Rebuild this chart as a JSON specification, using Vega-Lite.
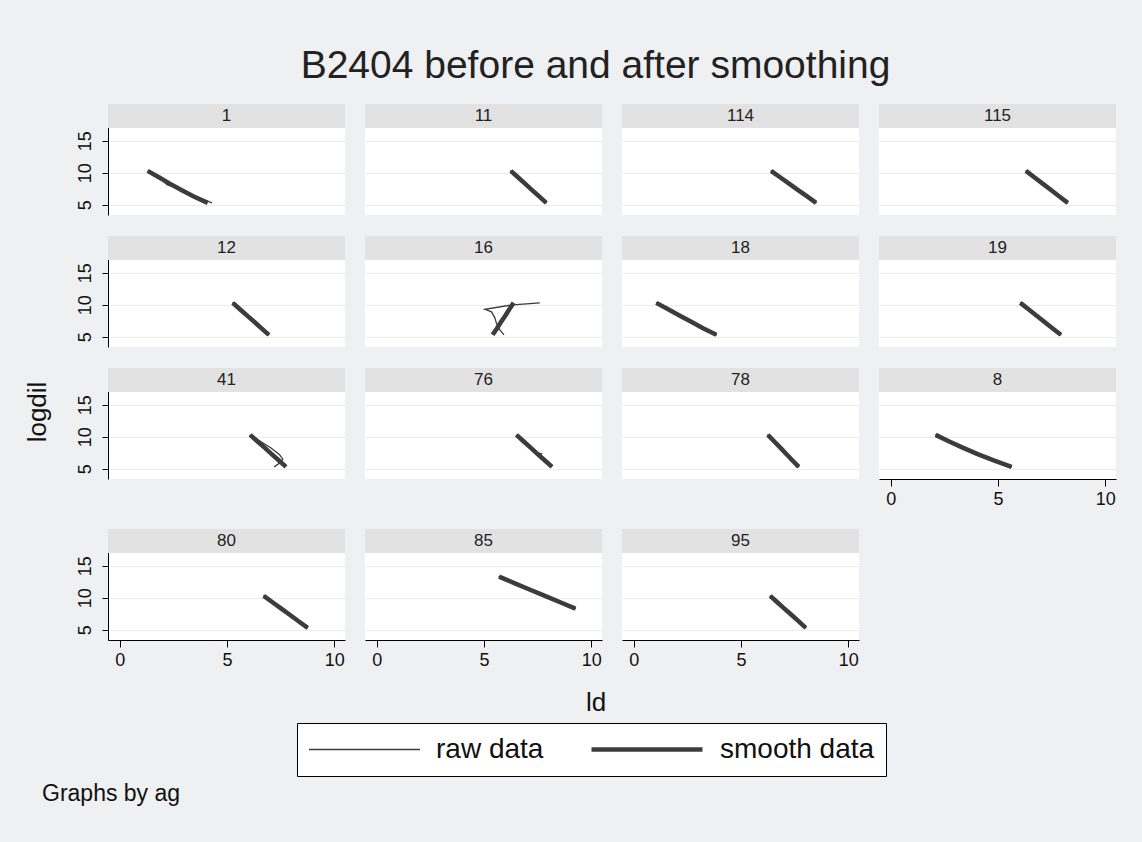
{
  "$schema": "https://vega.github.io/schema/vega-lite/v6.json",
  "background": "#eff0f2",
  "padding": {"left": 25, "right": 28, "top": 47, "bottom": 37},
  "title": {"text": "B2404 before and after smoothing", "fontSize": 39, "font": "Liberation Sans", "fontWeight": "normal", "color": "#222222", "offset": 18, "anchor": "middle", "dx": 25},
  "data": {"values": [
    {"ag":"1","series":"smooth data","i":0,"ld":1.3,"logdil":10.3},{"ag":"1","series":"smooth data","i":1,"ld":1.82,"logdil":9.3},{"ag":"1","series":"smooth data","i":2,"ld":2.33,"logdil":8.3},{"ag":"1","series":"smooth data","i":3,"ld":2.87,"logdil":7.3},{"ag":"1","series":"smooth data","i":4,"ld":3.45,"logdil":6.3},{"ag":"1","series":"smooth data","i":5,"ld":4.1,"logdil":5.3},
    {"ag":"1","series":"raw data","i":0,"ld":1.3,"logdil":10.35},{"ag":"1","series":"raw data","i":1,"ld":1.85,"logdil":9.3},{"ag":"1","series":"raw data","i":2,"ld":2.2,"logdil":8.15},{"ag":"1","series":"raw data","i":3,"ld":2.95,"logdil":7.25},{"ag":"1","series":"raw data","i":4,"ld":3.1,"logdil":7.05},{"ag":"1","series":"raw data","i":5,"ld":3.55,"logdil":6.25},{"ag":"1","series":"raw data","i":6,"ld":4.3,"logdil":5.3},
    {"ag":"11","series":"smooth data","i":0,"ld":6.25,"logdil":10.3},{"ag":"11","series":"smooth data","i":1,"ld":6.58,"logdil":9.3},{"ag":"11","series":"smooth data","i":2,"ld":6.91,"logdil":8.3},{"ag":"11","series":"smooth data","i":3,"ld":7.24,"logdil":7.3},{"ag":"11","series":"smooth data","i":4,"ld":7.57,"logdil":6.3},{"ag":"11","series":"smooth data","i":5,"ld":7.9,"logdil":5.3},
    {"ag":"11","series":"raw data","i":0,"ld":6.22,"logdil":10.35},{"ag":"11","series":"raw data","i":1,"ld":6.6,"logdil":9.3},{"ag":"11","series":"raw data","i":2,"ld":6.89,"logdil":8.3},{"ag":"11","series":"raw data","i":3,"ld":7.26,"logdil":7.3},{"ag":"11","series":"raw data","i":4,"ld":7.55,"logdil":6.3},{"ag":"11","series":"raw data","i":5,"ld":7.92,"logdil":5.25},
    {"ag":"114","series":"smooth data","i":0,"ld":6.4,"logdil":10.3},{"ag":"114","series":"smooth data","i":1,"ld":6.82,"logdil":9.3},{"ag":"114","series":"smooth data","i":2,"ld":7.24,"logdil":8.3},{"ag":"114","series":"smooth data","i":3,"ld":7.66,"logdil":7.3},{"ag":"114","series":"smooth data","i":4,"ld":8.08,"logdil":6.3},{"ag":"114","series":"smooth data","i":5,"ld":8.5,"logdil":5.3},
    {"ag":"114","series":"raw data","i":0,"ld":6.38,"logdil":10.35},{"ag":"114","series":"raw data","i":1,"ld":6.84,"logdil":9.3},{"ag":"114","series":"raw data","i":2,"ld":7.22,"logdil":8.3},{"ag":"114","series":"raw data","i":3,"ld":7.68,"logdil":7.3},{"ag":"114","series":"raw data","i":4,"ld":8.06,"logdil":6.3},{"ag":"114","series":"raw data","i":5,"ld":8.52,"logdil":5.25},
    {"ag":"115","series":"smooth data","i":0,"ld":6.3,"logdil":10.3},{"ag":"115","series":"smooth data","i":1,"ld":6.69,"logdil":9.3},{"ag":"115","series":"smooth data","i":2,"ld":7.08,"logdil":8.3},{"ag":"115","series":"smooth data","i":3,"ld":7.47,"logdil":7.3},{"ag":"115","series":"smooth data","i":4,"ld":7.86,"logdil":6.3},{"ag":"115","series":"smooth data","i":5,"ld":8.25,"logdil":5.3},
    {"ag":"115","series":"raw data","i":0,"ld":6.28,"logdil":10.35},{"ag":"115","series":"raw data","i":1,"ld":6.7,"logdil":9.3},{"ag":"115","series":"raw data","i":2,"ld":7.06,"logdil":8.3},{"ag":"115","series":"raw data","i":3,"ld":7.49,"logdil":7.3},{"ag":"115","series":"raw data","i":4,"ld":7.84,"logdil":6.3},{"ag":"115","series":"raw data","i":5,"ld":8.27,"logdil":5.25},
    {"ag":"12","series":"smooth data","i":0,"ld":5.27,"logdil":10.3},{"ag":"12","series":"smooth data","i":1,"ld":5.6,"logdil":9.3},{"ag":"12","series":"smooth data","i":2,"ld":5.94,"logdil":8.3},{"ag":"12","series":"smooth data","i":3,"ld":6.28,"logdil":7.3},{"ag":"12","series":"smooth data","i":4,"ld":6.61,"logdil":6.3},{"ag":"12","series":"smooth data","i":5,"ld":6.95,"logdil":5.3},
    {"ag":"12","series":"raw data","i":0,"ld":5.25,"logdil":10.35},{"ag":"12","series":"raw data","i":1,"ld":5.62,"logdil":9.3},{"ag":"12","series":"raw data","i":2,"ld":5.92,"logdil":8.3},{"ag":"12","series":"raw data","i":3,"ld":6.3,"logdil":7.3},{"ag":"12","series":"raw data","i":4,"ld":6.6,"logdil":6.3},{"ag":"12","series":"raw data","i":5,"ld":6.97,"logdil":5.25},
    {"ag":"16","series":"smooth data","i":0,"ld":5.4,"logdil":5.3},{"ag":"16","series":"smooth data","i":1,"ld":5.6,"logdil":6.3},{"ag":"16","series":"smooth data","i":2,"ld":5.79,"logdil":7.3},{"ag":"16","series":"smooth data","i":3,"ld":5.99,"logdil":8.3},{"ag":"16","series":"smooth data","i":4,"ld":6.18,"logdil":9.3},{"ag":"16","series":"smooth data","i":5,"ld":6.38,"logdil":10.3},
    {"ag":"16","series":"raw data","i":0,"ld":7.6,"logdil":10.3},{"ag":"16","series":"raw data","i":1,"ld":6.35,"logdil":10.0},{"ag":"16","series":"raw data","i":2,"ld":5.04,"logdil":9.3},{"ag":"16","series":"raw data","i":3,"ld":5.35,"logdil":8.9},{"ag":"16","series":"raw data","i":4,"ld":5.5,"logdil":8.0},{"ag":"16","series":"raw data","i":5,"ld":5.58,"logdil":7.1},{"ag":"16","series":"raw data","i":6,"ld":5.73,"logdil":6.1},{"ag":"16","series":"raw data","i":7,"ld":5.93,"logdil":5.3},
    {"ag":"18","series":"smooth data","i":0,"ld":1.05,"logdil":10.3},{"ag":"18","series":"smooth data","i":1,"ld":1.6,"logdil":9.3},{"ag":"18","series":"smooth data","i":2,"ld":2.15,"logdil":8.3},{"ag":"18","series":"smooth data","i":3,"ld":2.7,"logdil":7.3},{"ag":"18","series":"smooth data","i":4,"ld":3.25,"logdil":6.3},{"ag":"18","series":"smooth data","i":5,"ld":3.85,"logdil":5.3},
    {"ag":"18","series":"raw data","i":0,"ld":1.03,"logdil":10.35},{"ag":"18","series":"raw data","i":1,"ld":1.62,"logdil":9.3},{"ag":"18","series":"raw data","i":2,"ld":2.13,"logdil":8.3},{"ag":"18","series":"raw data","i":3,"ld":2.72,"logdil":7.3},{"ag":"18","series":"raw data","i":4,"ld":3.23,"logdil":6.3},{"ag":"18","series":"raw data","i":5,"ld":3.87,"logdil":5.25},
    {"ag":"19","series":"smooth data","i":0,"ld":6.04,"logdil":10.3},{"ag":"19","series":"smooth data","i":1,"ld":6.42,"logdil":9.3},{"ag":"19","series":"smooth data","i":2,"ld":6.8,"logdil":8.3},{"ag":"19","series":"smooth data","i":3,"ld":7.17,"logdil":7.3},{"ag":"19","series":"smooth data","i":4,"ld":7.55,"logdil":6.3},{"ag":"19","series":"smooth data","i":5,"ld":7.93,"logdil":5.3},
    {"ag":"19","series":"raw data","i":0,"ld":6.02,"logdil":10.35},{"ag":"19","series":"raw data","i":1,"ld":6.44,"logdil":9.3},{"ag":"19","series":"raw data","i":2,"ld":6.78,"logdil":8.3},{"ag":"19","series":"raw data","i":3,"ld":7.19,"logdil":7.3},{"ag":"19","series":"raw data","i":4,"ld":7.53,"logdil":6.3},{"ag":"19","series":"raw data","i":5,"ld":7.95,"logdil":5.25},
    {"ag":"41","series":"smooth data","i":0,"ld":6.08,"logdil":10.3},{"ag":"41","series":"smooth data","i":1,"ld":6.41,"logdil":9.3},{"ag":"41","series":"smooth data","i":2,"ld":6.75,"logdil":8.3},{"ag":"41","series":"smooth data","i":3,"ld":7.08,"logdil":7.3},{"ag":"41","series":"smooth data","i":4,"ld":7.42,"logdil":6.3},{"ag":"41","series":"smooth data","i":5,"ld":7.75,"logdil":5.3},
    {"ag":"41","series":"raw data","i":0,"ld":6.05,"logdil":10.3},{"ag":"41","series":"raw data","i":1,"ld":6.55,"logdil":9.3},{"ag":"41","series":"raw data","i":2,"ld":7.05,"logdil":8.25},{"ag":"41","series":"raw data","i":3,"ld":7.45,"logdil":7.2},{"ag":"41","series":"raw data","i":4,"ld":7.6,"logdil":6.5},{"ag":"41","series":"raw data","i":5,"ld":7.5,"logdil":6.0},{"ag":"41","series":"raw data","i":6,"ld":7.2,"logdil":5.3},
    {"ag":"76","series":"smooth data","i":0,"ld":6.51,"logdil":10.3},{"ag":"76","series":"smooth data","i":1,"ld":6.84,"logdil":9.3},{"ag":"76","series":"smooth data","i":2,"ld":7.17,"logdil":8.3},{"ag":"76","series":"smooth data","i":3,"ld":7.5,"logdil":7.3},{"ag":"76","series":"smooth data","i":4,"ld":7.84,"logdil":6.3},{"ag":"76","series":"smooth data","i":5,"ld":8.17,"logdil":5.3},
    {"ag":"76","series":"raw data","i":0,"ld":6.5,"logdil":10.3},{"ag":"76","series":"raw data","i":1,"ld":6.85,"logdil":9.3},{"ag":"76","series":"raw data","i":2,"ld":7.15,"logdil":8.3},{"ag":"76","series":"raw data","i":3,"ld":7.45,"logdil":7.5},{"ag":"76","series":"raw data","i":4,"ld":7.68,"logdil":7.35},{"ag":"76","series":"raw data","i":5,"ld":7.6,"logdil":7.0},{"ag":"76","series":"raw data","i":6,"ld":7.85,"logdil":6.3},{"ag":"76","series":"raw data","i":7,"ld":8.15,"logdil":5.3},
    {"ag":"78","series":"smooth data","i":0,"ld":6.25,"logdil":10.3},{"ag":"78","series":"smooth data","i":1,"ld":6.54,"logdil":9.3},{"ag":"78","series":"smooth data","i":2,"ld":6.83,"logdil":8.3},{"ag":"78","series":"smooth data","i":3,"ld":7.11,"logdil":7.3},{"ag":"78","series":"smooth data","i":4,"ld":7.4,"logdil":6.3},{"ag":"78","series":"smooth data","i":5,"ld":7.69,"logdil":5.3},
    {"ag":"78","series":"raw data","i":0,"ld":6.23,"logdil":10.35},{"ag":"78","series":"raw data","i":1,"ld":6.56,"logdil":9.3},{"ag":"78","series":"raw data","i":2,"ld":6.81,"logdil":8.3},{"ag":"78","series":"raw data","i":3,"ld":7.13,"logdil":7.3},{"ag":"78","series":"raw data","i":4,"ld":7.38,"logdil":6.3},{"ag":"78","series":"raw data","i":5,"ld":7.71,"logdil":5.25},
    {"ag":"8","series":"smooth data","i":0,"ld":2.09,"logdil":10.3},{"ag":"8","series":"smooth data","i":1,"ld":2.7,"logdil":9.3},{"ag":"8","series":"smooth data","i":2,"ld":3.35,"logdil":8.3},{"ag":"8","series":"smooth data","i":3,"ld":4.05,"logdil":7.3},{"ag":"8","series":"smooth data","i":4,"ld":4.8,"logdil":6.3},{"ag":"8","series":"smooth data","i":5,"ld":5.63,"logdil":5.3},
    {"ag":"8","series":"raw data","i":0,"ld":2.07,"logdil":10.35},{"ag":"8","series":"raw data","i":1,"ld":2.72,"logdil":9.3},{"ag":"8","series":"raw data","i":2,"ld":3.33,"logdil":8.3},{"ag":"8","series":"raw data","i":3,"ld":4.07,"logdil":7.3},{"ag":"8","series":"raw data","i":4,"ld":4.78,"logdil":6.3},{"ag":"8","series":"raw data","i":5,"ld":5.65,"logdil":5.25},
    {"ag":"80","series":"smooth data","i":0,"ld":6.71,"logdil":10.3},{"ag":"80","series":"smooth data","i":1,"ld":7.12,"logdil":9.3},{"ag":"80","series":"smooth data","i":2,"ld":7.53,"logdil":8.3},{"ag":"80","series":"smooth data","i":3,"ld":7.94,"logdil":7.3},{"ag":"80","series":"smooth data","i":4,"ld":8.35,"logdil":6.3},{"ag":"80","series":"smooth data","i":5,"ld":8.76,"logdil":5.3},
    {"ag":"80","series":"raw data","i":0,"ld":6.69,"logdil":10.35},{"ag":"80","series":"raw data","i":1,"ld":7.14,"logdil":9.3},{"ag":"80","series":"raw data","i":2,"ld":7.51,"logdil":8.3},{"ag":"80","series":"raw data","i":3,"ld":7.96,"logdil":7.3},{"ag":"80","series":"raw data","i":4,"ld":8.33,"logdil":6.3},{"ag":"80","series":"raw data","i":5,"ld":8.78,"logdil":5.25},
    {"ag":"85","series":"smooth data","i":0,"ld":5.7,"logdil":13.3},{"ag":"85","series":"smooth data","i":1,"ld":6.41,"logdil":12.3},{"ag":"85","series":"smooth data","i":2,"ld":7.12,"logdil":11.3},{"ag":"85","series":"smooth data","i":3,"ld":7.84,"logdil":10.3},{"ag":"85","series":"smooth data","i":4,"ld":8.55,"logdil":9.3},{"ag":"85","series":"smooth data","i":5,"ld":9.26,"logdil":8.3},
    {"ag":"85","series":"raw data","i":0,"ld":5.68,"logdil":13.35},{"ag":"85","series":"raw data","i":1,"ld":6.43,"logdil":12.3},{"ag":"85","series":"raw data","i":2,"ld":7.1,"logdil":11.3},{"ag":"85","series":"raw data","i":3,"ld":7.86,"logdil":10.3},{"ag":"85","series":"raw data","i":4,"ld":8.53,"logdil":9.3},{"ag":"85","series":"raw data","i":5,"ld":9.28,"logdil":8.25},
    {"ag":"95","series":"smooth data","i":0,"ld":6.36,"logdil":10.3},{"ag":"95","series":"smooth data","i":1,"ld":6.69,"logdil":9.3},{"ag":"95","series":"smooth data","i":2,"ld":7.02,"logdil":8.3},{"ag":"95","series":"smooth data","i":3,"ld":7.36,"logdil":7.3},{"ag":"95","series":"smooth data","i":4,"ld":7.69,"logdil":6.3},{"ag":"95","series":"smooth data","i":5,"ld":8.02,"logdil":5.3},
    {"ag":"95","series":"raw data","i":0,"ld":6.34,"logdil":10.35},{"ag":"95","series":"raw data","i":1,"ld":6.71,"logdil":9.3},{"ag":"95","series":"raw data","i":2,"ld":7.0,"logdil":8.3},{"ag":"95","series":"raw data","i":3,"ld":7.38,"logdil":7.3},{"ag":"95","series":"raw data","i":4,"ld":7.67,"logdil":6.3},{"ag":"95","series":"raw data","i":5,"ld":8.04,"logdil":5.25}
  ]},
  "vconcat": [
    {
      "hconcat": [
        {"data": {"values": [{"t": "logdil"}]}, "width": 20, "height": 616, "view": {"fill": null, "stroke": null}, "mark": {"type": "text", "angle": 270, "fontSize": 26, "color": "#111111"}, "encoding": {"text": {"field": "t"}}},
        {
          "vconcat": [
            {"hconcat": [
              {"width":237,"height":111,"transform":[{"filter":{"field":"ag","equal":"1"}}],"layer":[{"mark":{"type":"line","color":"#3c3c3c"},"encoding":{"x":{"field":"ld","type":"quantitative","scale":{"domain":[-0.55,10.5],"nice":false,"zero":false},"axis":null},"y":{"field":"logdil","type":"quantitative","scale":{"domain":[3.4,20.75],"nice":false,"zero":false},"axis":{"values":[5,10,15],"title":null}},"strokeWidth":{"field":"series","type":"ordinal","scale":{"domain":["raw data","smooth data"],"range":[1.3,4.5]},"legend":{"title":null}},"order":{"field":"i","type":"quantitative"}}},{"transform":[{"aggregate":[{"op":"count","as":"n"}],"groupby":["ag"]}],"layer":[{"mark":{"type":"rect","fill":"#e2e2e2"},"encoding":{"y":{"datum":20.75,"type":"quantitative","scale":{"domain":[3.4,20.75],"nice":false,"zero":false},"axis":{"values":[5,10,15],"title":null}},"y2":{"datum":17}}},{"mark":{"type":"text","fontSize":17,"color":"#222222"},"encoding":{"text":{"field":"ag"},"y":{"datum":18.85,"type":"quantitative","scale":{"domain":[3.4,20.75],"nice":false,"zero":false},"axis":{"values":[5,10,15],"title":null}}}}]}]},
              {"width":237,"height":111,"transform":[{"filter":{"field":"ag","equal":"11"}}],"layer":[{"mark":{"type":"line","color":"#3c3c3c"},"encoding":{"x":{"field":"ld","type":"quantitative","scale":{"domain":[-0.55,10.5],"nice":false,"zero":false},"axis":null},"y":{"field":"logdil","type":"quantitative","scale":{"domain":[3.4,20.75],"nice":false,"zero":false},"axis":{"values":[5,10,15],"title":null,"domain":false,"ticks":false,"labels":false}},"strokeWidth":{"field":"series","type":"ordinal","scale":{"domain":["raw data","smooth data"],"range":[1.3,4.5]},"legend":{"title":null}},"order":{"field":"i","type":"quantitative"}}},{"transform":[{"aggregate":[{"op":"count","as":"n"}],"groupby":["ag"]}],"layer":[{"mark":{"type":"rect","fill":"#e2e2e2"},"encoding":{"y":{"datum":20.75,"type":"quantitative","scale":{"domain":[3.4,20.75],"nice":false,"zero":false},"axis":{"values":[5,10,15],"title":null,"domain":false,"ticks":false,"labels":false}},"y2":{"datum":17}}},{"mark":{"type":"text","fontSize":17,"color":"#222222"},"encoding":{"text":{"field":"ag"},"y":{"datum":18.85,"type":"quantitative","scale":{"domain":[3.4,20.75],"nice":false,"zero":false},"axis":{"values":[5,10,15],"title":null,"domain":false,"ticks":false,"labels":false}}}}]}]},
              {"width":237,"height":111,"transform":[{"filter":{"field":"ag","equal":"114"}}],"layer":[{"mark":{"type":"line","color":"#3c3c3c"},"encoding":{"x":{"field":"ld","type":"quantitative","scale":{"domain":[-0.55,10.5],"nice":false,"zero":false},"axis":null},"y":{"field":"logdil","type":"quantitative","scale":{"domain":[3.4,20.75],"nice":false,"zero":false},"axis":{"values":[5,10,15],"title":null,"domain":false,"ticks":false,"labels":false}},"strokeWidth":{"field":"series","type":"ordinal","scale":{"domain":["raw data","smooth data"],"range":[1.3,4.5]},"legend":{"title":null}},"order":{"field":"i","type":"quantitative"}}},{"transform":[{"aggregate":[{"op":"count","as":"n"}],"groupby":["ag"]}],"layer":[{"mark":{"type":"rect","fill":"#e2e2e2"},"encoding":{"y":{"datum":20.75,"type":"quantitative","scale":{"domain":[3.4,20.75],"nice":false,"zero":false},"axis":{"values":[5,10,15],"title":null,"domain":false,"ticks":false,"labels":false}},"y2":{"datum":17}}},{"mark":{"type":"text","fontSize":17,"color":"#222222"},"encoding":{"text":{"field":"ag"},"y":{"datum":18.85,"type":"quantitative","scale":{"domain":[3.4,20.75],"nice":false,"zero":false},"axis":{"values":[5,10,15],"title":null,"domain":false,"ticks":false,"labels":false}}}}]}]},
              {"width":237,"height":111,"transform":[{"filter":{"field":"ag","equal":"115"}}],"layer":[{"mark":{"type":"line","color":"#3c3c3c"},"encoding":{"x":{"field":"ld","type":"quantitative","scale":{"domain":[-0.55,10.5],"nice":false,"zero":false},"axis":null},"y":{"field":"logdil","type":"quantitative","scale":{"domain":[3.4,20.75],"nice":false,"zero":false},"axis":{"values":[5,10,15],"title":null,"domain":false,"ticks":false,"labels":false}},"strokeWidth":{"field":"series","type":"ordinal","scale":{"domain":["raw data","smooth data"],"range":[1.3,4.5]},"legend":{"title":null}},"order":{"field":"i","type":"quantitative"}}},{"transform":[{"aggregate":[{"op":"count","as":"n"}],"groupby":["ag"]}],"layer":[{"mark":{"type":"rect","fill":"#e2e2e2"},"encoding":{"y":{"datum":20.75,"type":"quantitative","scale":{"domain":[3.4,20.75],"nice":false,"zero":false},"axis":{"values":[5,10,15],"title":null,"domain":false,"ticks":false,"labels":false}},"y2":{"datum":17}}},{"mark":{"type":"text","fontSize":17,"color":"#222222"},"encoding":{"text":{"field":"ag"},"y":{"datum":18.85,"type":"quantitative","scale":{"domain":[3.4,20.75],"nice":false,"zero":false},"axis":{"values":[5,10,15],"title":null,"domain":false,"ticks":false,"labels":false}}}}]}]}
            ], "spacing": 20},
            {"hconcat": [
              {"width":237,"height":111,"transform":[{"filter":{"field":"ag","equal":"12"}}],"layer":[{"mark":{"type":"line","color":"#3c3c3c"},"encoding":{"x":{"field":"ld","type":"quantitative","scale":{"domain":[-0.55,10.5],"nice":false,"zero":false},"axis":null},"y":{"field":"logdil","type":"quantitative","scale":{"domain":[3.4,20.75],"nice":false,"zero":false},"axis":{"values":[5,10,15],"title":null}},"strokeWidth":{"field":"series","type":"ordinal","scale":{"domain":["raw data","smooth data"],"range":[1.3,4.5]},"legend":{"title":null}},"order":{"field":"i","type":"quantitative"}}},{"transform":[{"aggregate":[{"op":"count","as":"n"}],"groupby":["ag"]}],"layer":[{"mark":{"type":"rect","fill":"#e2e2e2"},"encoding":{"y":{"datum":20.75,"type":"quantitative","scale":{"domain":[3.4,20.75],"nice":false,"zero":false},"axis":{"values":[5,10,15],"title":null}},"y2":{"datum":17}}},{"mark":{"type":"text","fontSize":17,"color":"#222222"},"encoding":{"text":{"field":"ag"},"y":{"datum":18.85,"type":"quantitative","scale":{"domain":[3.4,20.75],"nice":false,"zero":false},"axis":{"values":[5,10,15],"title":null}}}}]}]},
              {"width":237,"height":111,"transform":[{"filter":{"field":"ag","equal":"16"}}],"layer":[{"mark":{"type":"line","color":"#3c3c3c"},"encoding":{"x":{"field":"ld","type":"quantitative","scale":{"domain":[-0.55,10.5],"nice":false,"zero":false},"axis":null},"y":{"field":"logdil","type":"quantitative","scale":{"domain":[3.4,20.75],"nice":false,"zero":false},"axis":{"values":[5,10,15],"title":null,"domain":false,"ticks":false,"labels":false}},"strokeWidth":{"field":"series","type":"ordinal","scale":{"domain":["raw data","smooth data"],"range":[1.3,4.5]},"legend":{"title":null}},"order":{"field":"i","type":"quantitative"}}},{"transform":[{"aggregate":[{"op":"count","as":"n"}],"groupby":["ag"]}],"layer":[{"mark":{"type":"rect","fill":"#e2e2e2"},"encoding":{"y":{"datum":20.75,"type":"quantitative","scale":{"domain":[3.4,20.75],"nice":false,"zero":false},"axis":{"values":[5,10,15],"title":null,"domain":false,"ticks":false,"labels":false}},"y2":{"datum":17}}},{"mark":{"type":"text","fontSize":17,"color":"#222222"},"encoding":{"text":{"field":"ag"},"y":{"datum":18.85,"type":"quantitative","scale":{"domain":[3.4,20.75],"nice":false,"zero":false},"axis":{"values":[5,10,15],"title":null,"domain":false,"ticks":false,"labels":false}}}}]}]},
              {"width":237,"height":111,"transform":[{"filter":{"field":"ag","equal":"18"}}],"layer":[{"mark":{"type":"line","color":"#3c3c3c"},"encoding":{"x":{"field":"ld","type":"quantitative","scale":{"domain":[-0.55,10.5],"nice":false,"zero":false},"axis":null},"y":{"field":"logdil","type":"quantitative","scale":{"domain":[3.4,20.75],"nice":false,"zero":false},"axis":{"values":[5,10,15],"title":null,"domain":false,"ticks":false,"labels":false}},"strokeWidth":{"field":"series","type":"ordinal","scale":{"domain":["raw data","smooth data"],"range":[1.3,4.5]},"legend":{"title":null}},"order":{"field":"i","type":"quantitative"}}},{"transform":[{"aggregate":[{"op":"count","as":"n"}],"groupby":["ag"]}],"layer":[{"mark":{"type":"rect","fill":"#e2e2e2"},"encoding":{"y":{"datum":20.75,"type":"quantitative","scale":{"domain":[3.4,20.75],"nice":false,"zero":false},"axis":{"values":[5,10,15],"title":null,"domain":false,"ticks":false,"labels":false}},"y2":{"datum":17}}},{"mark":{"type":"text","fontSize":17,"color":"#222222"},"encoding":{"text":{"field":"ag"},"y":{"datum":18.85,"type":"quantitative","scale":{"domain":[3.4,20.75],"nice":false,"zero":false},"axis":{"values":[5,10,15],"title":null,"domain":false,"ticks":false,"labels":false}}}}]}]},
              {"width":237,"height":111,"transform":[{"filter":{"field":"ag","equal":"19"}}],"layer":[{"mark":{"type":"line","color":"#3c3c3c"},"encoding":{"x":{"field":"ld","type":"quantitative","scale":{"domain":[-0.55,10.5],"nice":false,"zero":false},"axis":null},"y":{"field":"logdil","type":"quantitative","scale":{"domain":[3.4,20.75],"nice":false,"zero":false},"axis":{"values":[5,10,15],"title":null,"domain":false,"ticks":false,"labels":false}},"strokeWidth":{"field":"series","type":"ordinal","scale":{"domain":["raw data","smooth data"],"range":[1.3,4.5]},"legend":{"title":null}},"order":{"field":"i","type":"quantitative"}}},{"transform":[{"aggregate":[{"op":"count","as":"n"}],"groupby":["ag"]}],"layer":[{"mark":{"type":"rect","fill":"#e2e2e2"},"encoding":{"y":{"datum":20.75,"type":"quantitative","scale":{"domain":[3.4,20.75],"nice":false,"zero":false},"axis":{"values":[5,10,15],"title":null,"domain":false,"ticks":false,"labels":false}},"y2":{"datum":17}}},{"mark":{"type":"text","fontSize":17,"color":"#222222"},"encoding":{"text":{"field":"ag"},"y":{"datum":18.85,"type":"quantitative","scale":{"domain":[3.4,20.75],"nice":false,"zero":false},"axis":{"values":[5,10,15],"title":null,"domain":false,"ticks":false,"labels":false}}}}]}]}
            ], "spacing": 20},
            {"hconcat": [
              {"width":237,"height":111,"transform":[{"filter":{"field":"ag","equal":"41"}}],"layer":[{"mark":{"type":"line","color":"#3c3c3c"},"encoding":{"x":{"field":"ld","type":"quantitative","scale":{"domain":[-0.55,10.5],"nice":false,"zero":false},"axis":null},"y":{"field":"logdil","type":"quantitative","scale":{"domain":[3.4,20.75],"nice":false,"zero":false},"axis":{"values":[5,10,15],"title":null}},"strokeWidth":{"field":"series","type":"ordinal","scale":{"domain":["raw data","smooth data"],"range":[1.3,4.5]},"legend":{"title":null}},"order":{"field":"i","type":"quantitative"}}},{"transform":[{"aggregate":[{"op":"count","as":"n"}],"groupby":["ag"]}],"layer":[{"mark":{"type":"rect","fill":"#e2e2e2"},"encoding":{"y":{"datum":20.75,"type":"quantitative","scale":{"domain":[3.4,20.75],"nice":false,"zero":false},"axis":{"values":[5,10,15],"title":null}},"y2":{"datum":17}}},{"mark":{"type":"text","fontSize":17,"color":"#222222"},"encoding":{"text":{"field":"ag"},"y":{"datum":18.85,"type":"quantitative","scale":{"domain":[3.4,20.75],"nice":false,"zero":false},"axis":{"values":[5,10,15],"title":null}}}}]}]},
              {"width":237,"height":111,"transform":[{"filter":{"field":"ag","equal":"76"}}],"layer":[{"mark":{"type":"line","color":"#3c3c3c"},"encoding":{"x":{"field":"ld","type":"quantitative","scale":{"domain":[-0.55,10.5],"nice":false,"zero":false},"axis":null},"y":{"field":"logdil","type":"quantitative","scale":{"domain":[3.4,20.75],"nice":false,"zero":false},"axis":{"values":[5,10,15],"title":null,"domain":false,"ticks":false,"labels":false}},"strokeWidth":{"field":"series","type":"ordinal","scale":{"domain":["raw data","smooth data"],"range":[1.3,4.5]},"legend":{"title":null}},"order":{"field":"i","type":"quantitative"}}},{"transform":[{"aggregate":[{"op":"count","as":"n"}],"groupby":["ag"]}],"layer":[{"mark":{"type":"rect","fill":"#e2e2e2"},"encoding":{"y":{"datum":20.75,"type":"quantitative","scale":{"domain":[3.4,20.75],"nice":false,"zero":false},"axis":{"values":[5,10,15],"title":null,"domain":false,"ticks":false,"labels":false}},"y2":{"datum":17}}},{"mark":{"type":"text","fontSize":17,"color":"#222222"},"encoding":{"text":{"field":"ag"},"y":{"datum":18.85,"type":"quantitative","scale":{"domain":[3.4,20.75],"nice":false,"zero":false},"axis":{"values":[5,10,15],"title":null,"domain":false,"ticks":false,"labels":false}}}}]}]},
              {"width":237,"height":111,"transform":[{"filter":{"field":"ag","equal":"78"}}],"layer":[{"mark":{"type":"line","color":"#3c3c3c"},"encoding":{"x":{"field":"ld","type":"quantitative","scale":{"domain":[-0.55,10.5],"nice":false,"zero":false},"axis":null},"y":{"field":"logdil","type":"quantitative","scale":{"domain":[3.4,20.75],"nice":false,"zero":false},"axis":{"values":[5,10,15],"title":null,"domain":false,"ticks":false,"labels":false}},"strokeWidth":{"field":"series","type":"ordinal","scale":{"domain":["raw data","smooth data"],"range":[1.3,4.5]},"legend":{"title":null}},"order":{"field":"i","type":"quantitative"}}},{"transform":[{"aggregate":[{"op":"count","as":"n"}],"groupby":["ag"]}],"layer":[{"mark":{"type":"rect","fill":"#e2e2e2"},"encoding":{"y":{"datum":20.75,"type":"quantitative","scale":{"domain":[3.4,20.75],"nice":false,"zero":false},"axis":{"values":[5,10,15],"title":null,"domain":false,"ticks":false,"labels":false}},"y2":{"datum":17}}},{"mark":{"type":"text","fontSize":17,"color":"#222222"},"encoding":{"text":{"field":"ag"},"y":{"datum":18.85,"type":"quantitative","scale":{"domain":[3.4,20.75],"nice":false,"zero":false},"axis":{"values":[5,10,15],"title":null,"domain":false,"ticks":false,"labels":false}}}}]}]},
              {"width":237,"height":111,"transform":[{"filter":{"field":"ag","equal":"8"}}],"layer":[{"mark":{"type":"line","color":"#3c3c3c"},"encoding":{"x":{"field":"ld","type":"quantitative","scale":{"domain":[-0.55,10.5],"nice":false,"zero":false},"axis":{"values":[0,5,10],"title":null}},"y":{"field":"logdil","type":"quantitative","scale":{"domain":[3.4,20.75],"nice":false,"zero":false},"axis":{"values":[5,10,15],"title":null,"domain":false,"ticks":false,"labels":false}},"strokeWidth":{"field":"series","type":"ordinal","scale":{"domain":["raw data","smooth data"],"range":[1.3,4.5]},"legend":{"title":null}},"order":{"field":"i","type":"quantitative"}}},{"transform":[{"aggregate":[{"op":"count","as":"n"}],"groupby":["ag"]}],"layer":[{"mark":{"type":"rect","fill":"#e2e2e2"},"encoding":{"y":{"datum":20.75,"type":"quantitative","scale":{"domain":[3.4,20.75],"nice":false,"zero":false},"axis":{"values":[5,10,15],"title":null,"domain":false,"ticks":false,"labels":false}},"y2":{"datum":17}}},{"mark":{"type":"text","fontSize":17,"color":"#222222"},"encoding":{"text":{"field":"ag"},"y":{"datum":18.85,"type":"quantitative","scale":{"domain":[3.4,20.75],"nice":false,"zero":false},"axis":{"values":[5,10,15],"title":null,"domain":false,"ticks":false,"labels":false}}}}]}]}
            ], "spacing": 20},
            {"hconcat": [
              {"width":237,"height":111,"transform":[{"filter":{"field":"ag","equal":"80"}}],"layer":[{"mark":{"type":"line","color":"#3c3c3c"},"encoding":{"x":{"field":"ld","type":"quantitative","scale":{"domain":[-0.55,10.5],"nice":false,"zero":false},"axis":{"values":[0,5,10],"title":null}},"y":{"field":"logdil","type":"quantitative","scale":{"domain":[3.4,20.75],"nice":false,"zero":false},"axis":{"values":[5,10,15],"title":null}},"strokeWidth":{"field":"series","type":"ordinal","scale":{"domain":["raw data","smooth data"],"range":[1.3,4.5]},"legend":{"title":null}},"order":{"field":"i","type":"quantitative"}}},{"transform":[{"aggregate":[{"op":"count","as":"n"}],"groupby":["ag"]}],"layer":[{"mark":{"type":"rect","fill":"#e2e2e2"},"encoding":{"y":{"datum":20.75,"type":"quantitative","scale":{"domain":[3.4,20.75],"nice":false,"zero":false},"axis":{"values":[5,10,15],"title":null}},"y2":{"datum":17}}},{"mark":{"type":"text","fontSize":17,"color":"#222222"},"encoding":{"text":{"field":"ag"},"y":{"datum":18.85,"type":"quantitative","scale":{"domain":[3.4,20.75],"nice":false,"zero":false},"axis":{"values":[5,10,15],"title":null}}}}]}]},
              {"width":237,"height":111,"transform":[{"filter":{"field":"ag","equal":"85"}}],"layer":[{"mark":{"type":"line","color":"#3c3c3c"},"encoding":{"x":{"field":"ld","type":"quantitative","scale":{"domain":[-0.55,10.5],"nice":false,"zero":false},"axis":{"values":[0,5,10],"title":null}},"y":{"field":"logdil","type":"quantitative","scale":{"domain":[3.4,20.75],"nice":false,"zero":false},"axis":{"values":[5,10,15],"title":null,"domain":false,"ticks":false,"labels":false}},"strokeWidth":{"field":"series","type":"ordinal","scale":{"domain":["raw data","smooth data"],"range":[1.3,4.5]},"legend":{"title":null}},"order":{"field":"i","type":"quantitative"}}},{"transform":[{"aggregate":[{"op":"count","as":"n"}],"groupby":["ag"]}],"layer":[{"mark":{"type":"rect","fill":"#e2e2e2"},"encoding":{"y":{"datum":20.75,"type":"quantitative","scale":{"domain":[3.4,20.75],"nice":false,"zero":false},"axis":{"values":[5,10,15],"title":null,"domain":false,"ticks":false,"labels":false}},"y2":{"datum":17}}},{"mark":{"type":"text","fontSize":17,"color":"#222222"},"encoding":{"text":{"field":"ag"},"y":{"datum":18.85,"type":"quantitative","scale":{"domain":[3.4,20.75],"nice":false,"zero":false},"axis":{"values":[5,10,15],"title":null,"domain":false,"ticks":false,"labels":false}}}}]}]},
              {"width":237,"height":111,"transform":[{"filter":{"field":"ag","equal":"95"}}],"layer":[{"mark":{"type":"line","color":"#3c3c3c"},"encoding":{"x":{"field":"ld","type":"quantitative","scale":{"domain":[-0.55,10.5],"nice":false,"zero":false},"axis":{"values":[0,5,10],"title":null}},"y":{"field":"logdil","type":"quantitative","scale":{"domain":[3.4,20.75],"nice":false,"zero":false},"axis":{"values":[5,10,15],"title":null,"domain":false,"ticks":false,"labels":false}},"strokeWidth":{"field":"series","type":"ordinal","scale":{"domain":["raw data","smooth data"],"range":[1.3,4.5]},"legend":{"title":null}},"order":{"field":"i","type":"quantitative"}}},{"transform":[{"aggregate":[{"op":"count","as":"n"}],"groupby":["ag"]}],"layer":[{"mark":{"type":"rect","fill":"#e2e2e2"},"encoding":{"y":{"datum":20.75,"type":"quantitative","scale":{"domain":[3.4,20.75],"nice":false,"zero":false},"axis":{"values":[5,10,15],"title":null,"domain":false,"ticks":false,"labels":false}},"y2":{"datum":17}}},{"mark":{"type":"text","fontSize":17,"color":"#222222"},"encoding":{"text":{"field":"ag"},"y":{"datum":18.85,"type":"quantitative","scale":{"domain":[3.4,20.75],"nice":false,"zero":false},"axis":{"values":[5,10,15],"title":null,"domain":false,"ticks":false,"labels":false}}}}]}]}
            ], "spacing": 20},
            {"data": {"values": [{"t": "ld"}]}, "width": 976, "height": 6, "view": {"fill": null, "stroke": null}, "mark": {"type": "text", "fontSize": 26, "baseline": "bottom", "color": "#111111"}, "encoding": {"text": {"field": "t"}}}
          ],
          "spacing": 21
        }
      ],
      "spacing": 25
    },
    {"data": {"values": [{"t": "Graphs by ag"}]}, "width": 28, "height": 20, "view": {"fill": null, "stroke": null}, "mark": {"type": "text", "align": "left", "fontSize": 23, "color": "#111111"}, "encoding": {"text": {"field": "t"}}}
  ],
  "spacing": 63,
  "config": {
    "font": "Liberation Sans",
    "view": {"stroke": null, "fill": "white"},
    "axis": {"domainColor": "#000000", "tickColor": "#000000", "labelColor": "#111111", "labelFontSize": 18, "labelFont": "Liberation Sans", "gridColor": "#ebebeb", "tickSize": 6},
    "axisY": {"labelAngle": 270, "labelPadding": 8},
    "axisX": {"grid": false, "labelPadding": 4, "tickSize": 7},
    "legend": {"orient": "none", "legendX": 269, "legendY": 619, "direction": "horizontal", "fillColor": "white", "strokeColor": "#000000", "padding": 11, "symbolType": "stroke", "symbolSize": 12321, "symbolStrokeColor": "#3c3c3c", "labelFontSize": 28, "labelFont": "Liberation Sans", "labelColor": "#111111", "labelOffset": 15, "columnPadding": 45, "clipHeight": 31, "cornerRadius": 0}
  }
}
